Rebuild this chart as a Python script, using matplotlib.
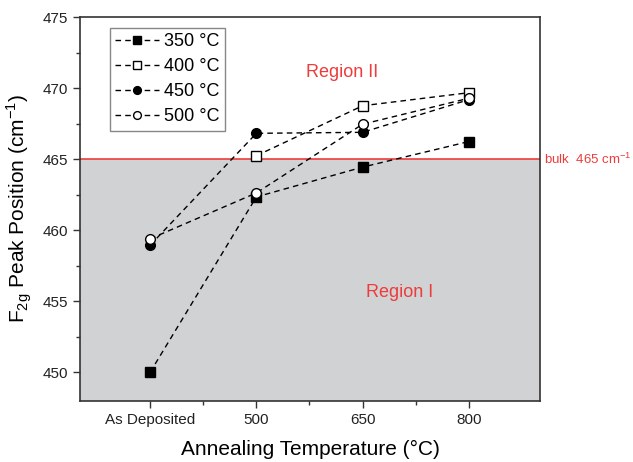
import matplotlib
matplotlib.use("Agg")
import matplotlib.pyplot as plt
import numpy as np
from matplotlib.ticker import MultipleLocator, FixedLocator

plt.rcParams['font.family'] = ['Liberation Sans', 'DejaVu Sans']

categories = ["As Deposited", "500", "650", "800"]
s350 = [450.0, 462.35, 464.45, 466.25]
s400 = [np.nan, 465.25, 468.77, 469.69]
s450 = [458.95, 466.83, 466.90, 469.20]
s500 = [459.40, 462.63, 467.47, 469.30]
labels = ["350 °C", "400 °C", "450 °C", "500 °C"]
bulk = 465

fig = plt.figure(figsize=(6.33, 4.62), dpi=100)
ax = fig.add_axes([80/633, 1-400.7/462, 460/633, (400.7-17.3)/462])

x = np.arange(len(categories))
ax.set_xlim(-0.66, 3.67)
ax.set_ylim(448, 475)

ax.axhspan(448, bulk, color='#d1d2d4', zorder=0, lw=0)
ax.axhline(bulk, color='#ee3b3b', lw=1.2, zorder=1)

styles = [('s', 'black'), ('s', 'white'), ('o', 'black'), ('o', 'white')]
for vals, lab, (m, fc) in zip([s350, s400, s450, s500], labels, styles):
    ax.plot(x, vals, ls=(0, (4, 3)), color='black', lw=1.0, marker=m,
            markerfacecolor=fc, markeredgecolor='black', markersize=7,
            markeredgewidth=1.0, label=lab, zorder=3)

ax.set_xticks(x)
ax.set_xticklabels(categories)
ax.xaxis.set_minor_locator(FixedLocator([0.5, 1.5, 2.5]))
ax.yaxis.set_major_locator(MultipleLocator(5))
ax.yaxis.set_minor_locator(MultipleLocator(2.5))
ax.tick_params(axis='both', which='major', direction='out', length=5, width=1,
               labelsize=11, colors='#333333', labelcolor='#222222')
ax.tick_params(axis='both', which='minor', direction='out', length=3, width=1, colors='#333333')
for sp in ax.spines.values():
    sp.set_linewidth(1.2)
    sp.set_color('#333333')

ax.set_xlabel("Annealing Temperature (°C)", fontsize=15, labelpad=10)
ax.set_ylabel(r"F$_{\mathregular{2g}}$ Peak Position (cm$^{\mathregular{-1}}$)", fontsize=15, labelpad=6)

ax.text(1.81, 471.1, "Region II", fontsize=13, color='#ee3b3b',
        ha='center', va='center')
ax.text(2.35, 455.6, "Region I", fontsize=13, color='#ee3b3b',
        ha='center', va='center')
ax.text(3.71, bulk, "bulk  465 cm$^{\\mathregular{-1}}$", fontsize=9.5, color='#ee3b3b',
        ha='left', va='center', clip_on=False)

leg = ax.legend(loc='upper left', bbox_to_anchor=(0.065, 0.973), fontsize=13,
                frameon=True, fancybox=False, edgecolor='#888888', framealpha=1,
                handlelength=2.4, handletextpad=0.3, borderpad=0.3, labelspacing=0.45,
                borderaxespad=0, markerscale=0.8)
leg.get_frame().set_linewidth(1.0)

fig.savefig("out.png", dpi=100)
